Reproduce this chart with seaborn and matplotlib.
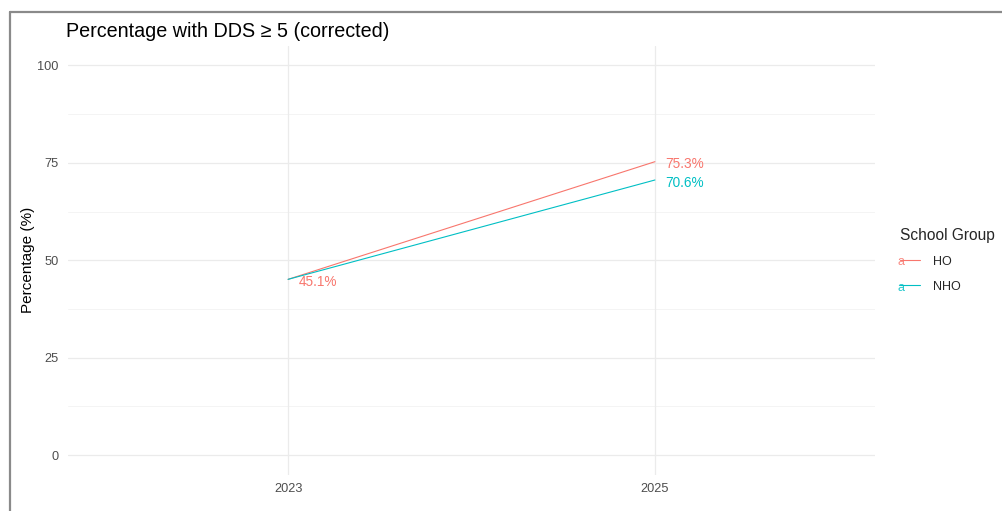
import matplotlib
matplotlib.use("Agg")
import matplotlib.pyplot as plt
import seaborn as sns
import pandas as pd
from matplotlib.lines import Line2D
from matplotlib.text import Text
from matplotlib.legend_handler import HandlerLine2D

# Data
years = ["2023", "2025"]
groups = ["HO", "NHO"]
ho_values = [45.1, 75.3]
nho_values = [45.1, 70.6]
y_ticks = [0, 25, 50, 75, 100]
palette = {"HO": "#F8766D", "NHO": "#00BFC4"}

df = pd.DataFrame({
    "Year": years * 2,
    "Group": ["HO"] * len(years) + ["NHO"] * len(years),
    "Pct": ho_values + nho_values,
})
df["x"] = df["Year"].map({y: i for i, y in enumerate(years)})

sns.set_theme(style="white")
plt.rcParams["font.family"] = ["Liberation Sans", "DejaVu Sans"]

fig = plt.figure(figsize=(10.03, 5.11), dpi=100)
ax = fig.add_axes([68 / 1003, 1 - 474.5 / 511, (875 - 68) / 1003, (474.5 - 46) / 511])

# grid
for y in [12.5, 37.5, 62.5, 87.5]:
    ax.axhline(y, color="#F2F2F2", lw=0.6, zorder=0)
for y in y_ticks:
    ax.axhline(y, color="#EBEBEB", lw=0.9, zorder=0)
for i in range(len(years)):
    ax.axvline(i, color="#EBEBEB", lw=0.9, zorder=0)

sns.lineplot(data=df, x="x", y="Pct", hue="Group", hue_order=groups,
             palette=palette, linewidth=0.8, ax=ax, legend=False,
             estimator=None, sort=True)

# value labels (overlapping duplicates skipped)
drawn = []
for g in groups:
    sub = df[df["Group"] == g]
    for _, r in sub.iterrows():
        if any(abs(r["x"] - dx) < 0.05 and abs(r["Pct"] - dy) < 2 for dx, dy in drawn):
            continue
        drawn.append((r["x"], r["Pct"]))
        ax.annotate(f"{r['Pct']:.1f}%", (r["x"], r["Pct"]), xytext=(10.5, -2.5),
                    textcoords="offset pixels", ha="left", va="center",
                    color=palette[g], fontsize=9.8)

ax.set_xlim(-0.6, len(years) - 1 + 0.6)
ax.set_ylim(-5, 105)
ax.set_xticks(range(len(years)))
ax.set_xticklabels(years)
ax.set_yticks(y_ticks)
ax.tick_params(axis="both", length=0, labelsize=9.2, labelcolor="#4D4D4D")
ax.tick_params(axis="y", pad=7)
ax.tick_params(axis="x", pad=6)
ax.set_xlabel("")
ax.set_ylabel("")
for s in ax.spines.values():
    s.set_visible(False)

fig.text(66 / 1003, 1 - 31 / 511, "Percentage with DDS \u2265 5 (corrected)",
         ha="left", va="center", fontsize=14.2, color="black")
fig.text(28 / 1003, 1 - 260 / 511, "Percentage (%)", rotation=90,
         ha="center", va="center", fontsize=11, color="black")


class HandlerLineLetter(HandlerLine2D):
    def create_artists(self, legend, orig_handle, xdescent, ydescent,
                       width, height, fontsize, trans):
        arts = super().create_artists(legend, orig_handle, xdescent, ydescent,
                                      width, height, fontsize, trans)
        t = Text(-xdescent - 2, height / 2 - ydescent - 1.5, "a",
                 color=orig_handle.get_color(), fontsize=fontsize * 1.0,
                 ha="left", va="center", transform=trans, alpha=0.85)
        return list(arts) + [t]


handles = [Line2D([], [], color=palette[g], lw=0.8) for g in groups]
leg = fig.legend(handles, groups, title="School Group",
                 loc="upper left", bbox_to_anchor=(889 / 1003, 1 - 217 / 511),
                 frameon=False, fontsize=9.0, title_fontsize=11.2,
                 handlelength=1.6, handletextpad=1.0, labelspacing=1.05,
                 handler_map={Line2D: HandlerLineLetter()})
leg._legend_box.align = "left"
leg._legend_box.sep = 9

# outer frame
fig.add_artist(Line2D([10 / 1003, 10 / 1003], [0, 1 - 12 / 511],
                      transform=fig.transFigure, color="#8A8A8A", lw=1.6))
fig.add_artist(Line2D([10 / 1003, 1002 / 1003], [1 - 12 / 511, 1 - 12 / 511],
                      transform=fig.transFigure, color="#8A8A8A", lw=1.6))

fig.savefig("out.png", dpi=100, facecolor="white")
